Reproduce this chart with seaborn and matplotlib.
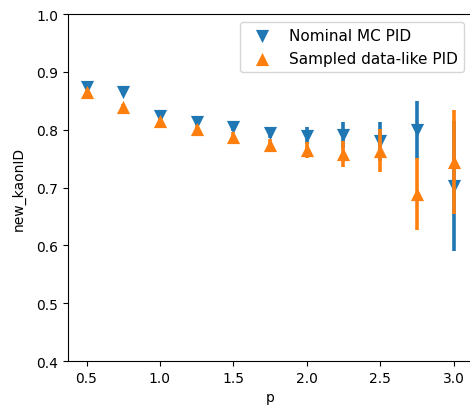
import matplotlib
matplotlib.use("Agg")
import matplotlib.pyplot as plt
import seaborn as sns
import pandas as pd

p = [0.5, 0.75, 1.0, 1.25, 1.5, 1.75, 2.0, 2.25, 2.5, 2.75, 3.0]
nominal = [0.874, 0.865, 0.824, 0.813, 0.804, 0.794, 0.790, 0.791, 0.780, 0.800, 0.703]
nominal_err = [0.004, 0.004, 0.004, 0.005, 0.006, 0.008, 0.014, 0.022, 0.034, 0.050, 0.113]
sampled = [0.866, 0.840, 0.816, 0.802, 0.788, 0.774, 0.765, 0.758, 0.764, 0.689, 0.745]
sampled_err = [0.004, 0.005, 0.005, 0.006, 0.008, 0.010, 0.014, 0.023, 0.037, 0.063, 0.090]

labels = ["Nominal MC PID", "Sampled data-like PID"]
colors = ["#1f77b4", "#ff7f0e"]

plt.rcParams['font.family'] = ['DejaVu Sans']

fig, ax = plt.subplots(figsize=(4.7, 4.1), dpi=100)
fig.subplots_adjust(left=0.145, right=1.004, bottom=0.117, top=0.963)

df_nom = pd.DataFrame({"p": p, "val": nominal, "err": nominal_err})
df_smp = pd.DataFrame({"p": p, "val": sampled, "err": sampled_err})

z = 2
for df, lab, col, mk in [(df_nom, labels[0], colors[0], "v"), (df_smp, labels[1], colors[1], "^")]:
    ax.errorbar(df["p"], df["val"], yerr=df["err"], fmt="none", ecolor=col,
                elinewidth=2.6, capsize=0, zorder=z)
    sns.scatterplot(data=df, x="p", y="val", marker=mk, color=col, s=90,
                    linewidth=0, ax=ax, label=lab, zorder=z + 0.1)
    z += 0.5

ax.set_xlim(0.375, 3.125)
ax.set_ylim(0.4, 1.0)
ax.set_xticks([0.5, 1.0, 1.5, 2.0, 2.5, 3.0])
ax.set_yticks([0.4, 0.5, 0.6, 0.7, 0.8, 0.9, 1.0])
ax.set_xlabel("p", fontsize=10)
ax.set_ylabel("new_kaonID", fontsize=10, labelpad=8)
ax.tick_params(labelsize=10)
ax.legend(loc="upper right", fontsize=11)

fig.savefig("out.png", dpi=100)
